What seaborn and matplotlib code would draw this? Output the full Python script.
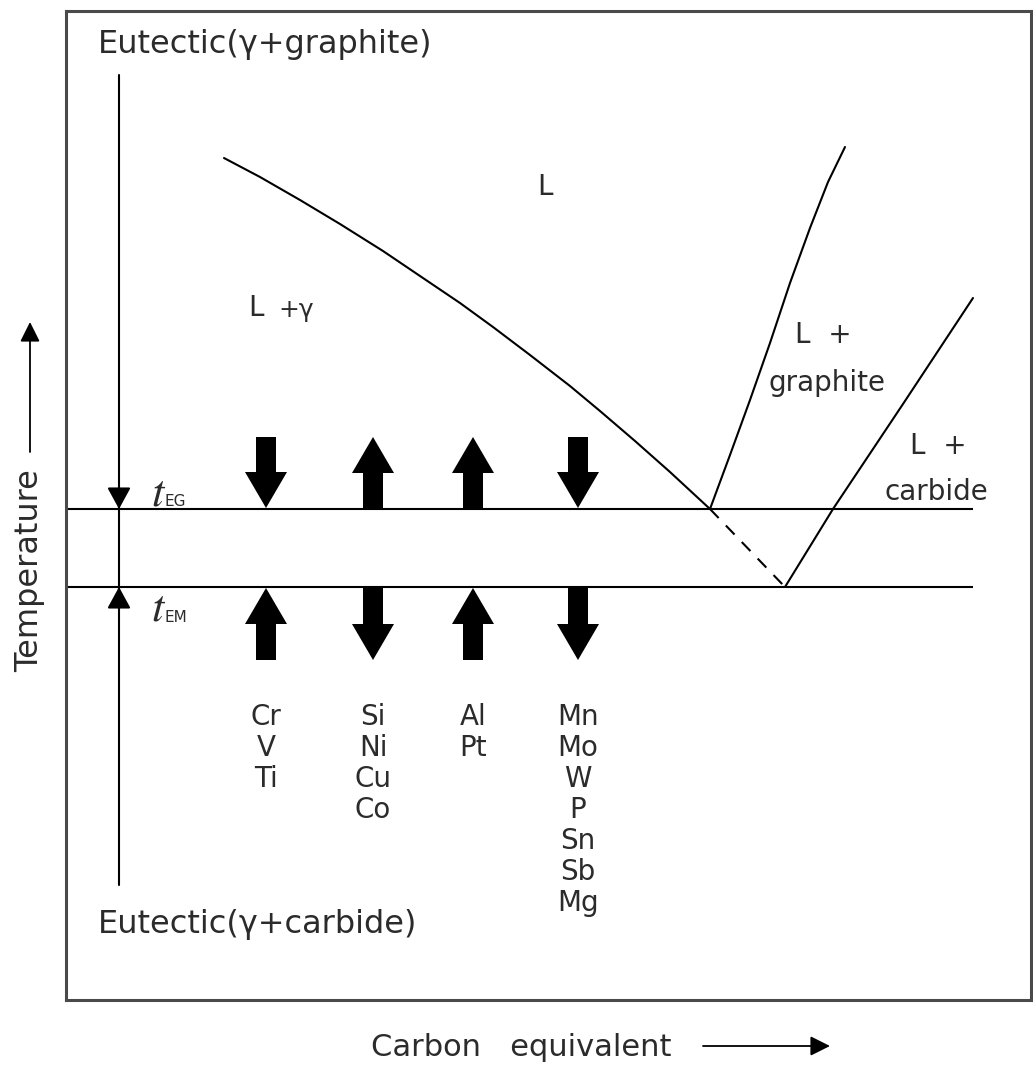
import matplotlib
matplotlib.use("Agg")
import matplotlib.pyplot as plt
import seaborn as sns

# Schematic Fe-C eutectic region: x = carbon equivalent, y = temperature (arbitrary units)
gamma_liquidus_ce = [158, 194, 234, 274, 317, 354, 394, 427, 464, 504, 534, 569, 604, 644]
gamma_liquidus_t = [842, 823, 800, 776, 749, 724, 697, 673, 645, 614, 589, 559, 528, 491]
gamma_metastable_ce = [644, 719]
gamma_metastable_t = [491, 413]
graphite_liquidus_ce = [644, 664, 684, 704, 724, 744, 762, 779]
graphite_liquidus_t = [491, 545, 600, 657, 717, 772, 818, 853]
carbide_liquidus_ce = [719, 767, 837, 907]
carbide_liquidus_t = [413, 491, 596, 702]
t_eg = 491
t_em = 413

# Effect of alloying elements on the two eutectic temperatures (+1 raises, -1 lowers)
element_groups = [["Cr", "V", "Ti"],
                  ["Si", "Ni", "Cu", "Co"],
                  ["Al", "Pt"],
                  ["Mn", "Mo", "W", "P", "Sn", "Sb", "Mg"]]
effect_on_teg = [-1, 1, 1, -1]
effect_on_tem = [1, -1, 1, -1]

sns.set_theme(style="white")
plt.rcParams["font.family"] = ["DejaVu Sans"]
plt.rcParams["mathtext.fontset"] = "stix"

W, H = 1033, 1068
fig = plt.figure(figsize=(W / 100, H / 100), dpi=100)
ax = fig.add_axes([66 / W, 1 - 1000 / H, (1031 - 66) / W, (1000 - 11) / H])
ax.set_xlim(0, 965)
ax.set_ylim(0, 989)
ax.set_xticks([])
ax.set_yticks([])
for sp in ax.spines.values():
    sp.set_color("#4a4a4a")
    sp.set_linewidth(2.2)

lw = 1.5
txt_color = "#2b2b2b"
fs = 20
fs_big = 23

# Liquidus lines
sns.lineplot(x=gamma_liquidus_ce, y=gamma_liquidus_t, ax=ax, color="black", lw=lw, sort=False)
sns.lineplot(x=gamma_metastable_ce, y=gamma_metastable_t, ax=ax, color="black", lw=lw,
             linestyle=(0, (6, 5)), sort=False)
sns.lineplot(x=graphite_liquidus_ce, y=graphite_liquidus_t, ax=ax, color="black", lw=lw, sort=False)
sns.lineplot(x=carbide_liquidus_ce, y=carbide_liquidus_t, ax=ax, color="black", lw=lw, sort=False)

# Eutectic temperatures
ax.hlines([t_eg, t_em], 0, 907, color="black", lw=lw)

# Vertical guide between the two eutectics
ax.plot([53, 53], [115, 925], color="black", lw=lw)
head = dict(arrowstyle="-|>,head_length=1.1,head_width=0.6", color="black", lw=lw,
            shrinkA=0, shrinkB=0)
ax.annotate("", xy=(53, t_eg), xytext=(53, t_eg + 22), arrowprops=head)
ax.annotate("", xy=(53, t_em), xytext=(53, t_em - 22), arrowprops=head)

# Block arrows and element lists
col_x = [200, 307, 407, 512]
top_hi, top_lo = 563, 492
bot_hi, bot_lo = 412, 340
for cx, e1, e2, names in zip(col_x, effect_on_teg, effect_on_tem, element_groups):
    for eff, hi, lo in ((e1, top_hi, top_lo), (e2, bot_hi, bot_lo)):
        start, end = (lo, hi) if eff > 0 else (hi, lo)
        ax.arrow(cx, start, 0, end - start, width=20, head_width=42, head_length=36,
                 length_includes_head=True, color="black", lw=0)
    for i, name in enumerate(names):
        ax.text(cx, 283 - 31 * i, name, ha="center", va="center", fontsize=fs, color=txt_color)

# Region and phase labels
ax.text(32, 955, "Eutectic(\u03b3+graphite)", ha="left", va="center", fontsize=fs_big, color=txt_color)
ax.text(32, 75, "Eutectic(\u03b3+carbide)", ha="left", va="center", fontsize=fs_big, color=txt_color)
ax.text(479, 813, "L", ha="center", va="center", fontsize=fs, color=txt_color)
ax.text(182, 692, "L", ha="left", va="center", fontsize=fs, color=txt_color)
ax.text(212, 690, "+\u03b3", ha="left", va="center", fontsize=18, color=txt_color)
ax.text(729, 665, "L  +", ha="left", va="center", fontsize=fs, color=txt_color)
ax.text(702, 617, "graphite", ha="left", va="center", fontsize=fs, color=txt_color)
ax.text(844, 554, "L  +", ha="left", va="center", fontsize=fs, color=txt_color)
ax.text(819, 508, "carbide", ha="left", va="center", fontsize=fs, color=txt_color)

# Eutectic temperature symbols: italic t with small upright subscript
for ty, sub in ((507, "EG"), (392, "EM")):
    ax.text(85, ty, r"$t$", ha="left", va="center", fontsize=32, color=txt_color)
    ax.text(99, ty - 9, sub, ha="left", va="center", fontsize=11, color=txt_color)

# Axis titles with direction arrows
fig.text(30 / W, 1 - 571 / H, "Temperature", rotation=90, ha="center", va="center",
         fontsize=23, color=txt_color)
fig.text(521 / W, 1 - 1047 / H, "Carbon   equivalent", ha="center", va="center",
         fontsize=22, color=txt_color)
big_head = dict(arrowstyle="-|>,head_length=1.0,head_width=0.5", color="black", lw=1.3,
                shrinkA=0, shrinkB=0)
ax.annotate("", xy=(30 / W, 1 - 322 / H), xytext=(30 / W, 1 - 452 / H),
            xycoords="figure fraction", textcoords="figure fraction", annotation_clip=False,
            arrowprops=big_head)
ax.annotate("", xy=(830 / W, 1 - 1046 / H), xytext=(703 / W, 1 - 1046 / H),
            xycoords="figure fraction", textcoords="figure fraction", annotation_clip=False,
            arrowprops=big_head)

fig.savefig("out.png", dpi=100, facecolor="white")
